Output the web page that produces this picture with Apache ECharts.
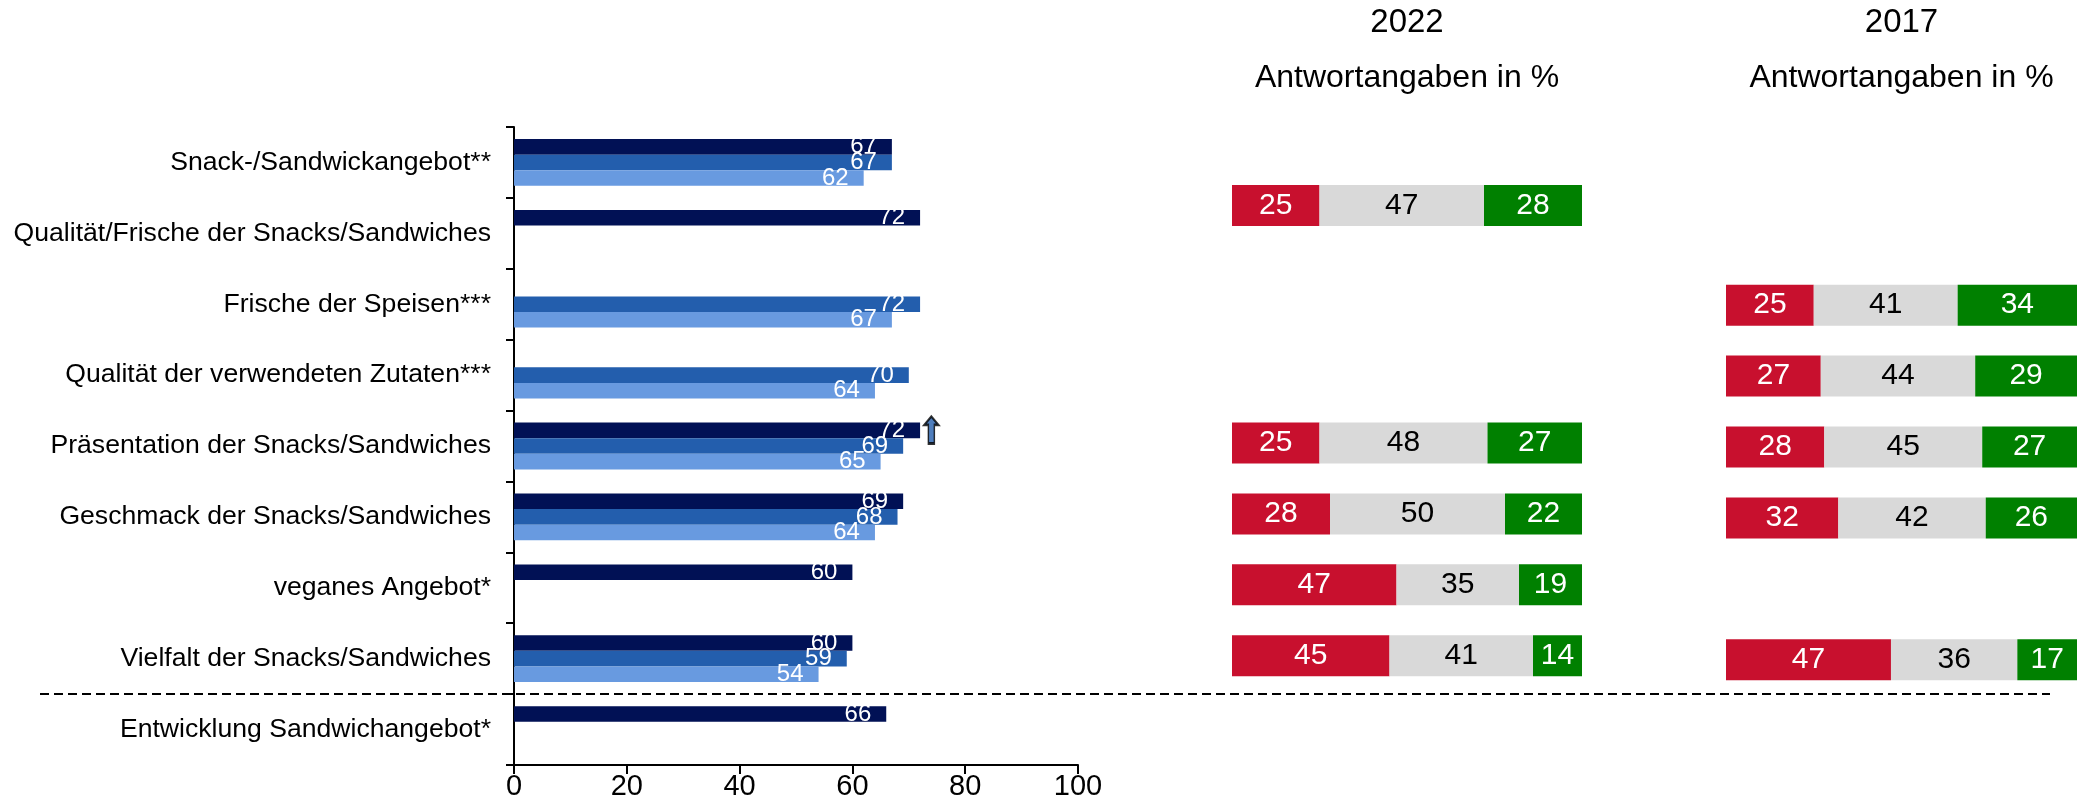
<!DOCTYPE html>
<html><head><meta charset="utf-8">
<script src="https://cdn.jsdelivr.net/npm/echarts@6/dist/echarts.min.js"></script>
<style>html,body{margin:0;padding:0;background:#fff}#c{width:2083px;height:810px}</style>
</head><body><div id="c"></div>
<script>
// ---------- data ----------
const categories = [
  'Snack-/Sandwickangebot**',
  'Qualität/Frische der Snacks/Sandwiches',
  'Frische der Speisen***',
  'Qualität der verwendeten Zutaten***',
  'Präsentation der Snacks/Sandwiches',
  'Geschmack der Snacks/Sandwiches',
  'veganes Angebot*',
  'Vielfalt der Snacks/Sandwiches',
  'Entwicklung Sandwichangebot*'
];
const xTicks = [0, 20, 40, 60, 80, 100];
// left panel (mean scores), three survey waves
const waveDark   = [67, 72, null, null, 72, 69, 60, 60, 66];
const waveMedium = [67, null, 72, 70, 69, 68, null, 59, null];
const waveLight  = [62, null, 67, 64, 65, 64, null, 54, null];
// trend arrow marker
const arrowCategory = 'Präsentation der Snacks/Sandwiches';
const arrowValue = 74;
// right panels: answer shares in %
const neg2022 = [null, 25, null, null, 25, 28, 47, 45, null];
const mid2022 = [null, 47, null, null, 48, 50, 35, 41, null];
const pos2022 = [null, 28, null, null, 27, 22, 19, 14, null];
const neg2017 = [null, null, 25, 27, 28, 32, null, 47, null];
const mid2017 = [null, null, 41, 44, 45, 42, null, 36, null];
const pos2017 = [null, null, 34, 29, 27, 26, null, 17, null];
const panelTitles = [['2022', 'Antwortangaben in %'], ['2017', 'Antwortangaben in %']];

// ---------- layout / styles ----------
const FONT = '"Liberation Sans", Arial, sans-serif';
const C_DARK = '#011155', C_MED = '#235EAD', C_LIGHT = '#689AE0';
const C_RED = '#C8102E', C_GREY = '#D9D9D9', C_GREEN = '#008000';
// row of the 2022 panel that sits higher than its category band in the original
const raisedRow2022 = 1;

const chart = echarts.init(document.getElementById('c'), null, {renderer: 'canvas'});

const GT = 127, GH = 638;
const grids = [
  {left: 514, top: GT, width: 564, height: GH, containLabel: false, outerBoundsMode: 'none'},
  {left: 1232, top: GT - 3, width: 350, height: GH, containLabel: false, outerBoundsMode: 'none'},
  {left: 1726, top: GT + 1, width: 351, height: GH, containLabel: false, outerBoundsMode: 'none'},
  {left: 1232, top: 185, width: 350, height: 41, containLabel: false, outerBoundsMode: 'none'}
];

const axisLineStyle = {color: '#000', width: 2};

const xAxes = [
  {gridIndex: 0, type: 'value', min: xTicks[0], max: xTicks[xTicks.length - 1], interval: xTicks[1] - xTicks[0],
   axisLine: {show: true, lineStyle: axisLineStyle},
   axisTick: {show: true, length: 9, lineStyle: axisLineStyle},
   axisLabel: {fontSize: 29, fontFamily: FONT, color: '#000', margin: 7},
   splitLine: {show: false}},
  {gridIndex: 1, type: 'value', min: 0, max: 100, show: false},
  {gridIndex: 2, type: 'value', min: 0, max: 100, show: false},
  {gridIndex: 3, type: 'value', min: 0, max: 100, show: false}
];
const yAxes = [
  {gridIndex: 0, type: 'category', data: categories, inverse: true,
   axisLine: {show: true, lineStyle: axisLineStyle},
   axisTick: {show: true, length: 8, interval: 0, lineStyle: axisLineStyle},
   axisLabel: {fontSize: 26.6, fontFamily: FONT, color: '#000', margin: 23, interval: 0}},
  {gridIndex: 1, type: 'category', data: categories, inverse: true, show: false},
  {gridIndex: 2, type: 'category', data: categories, inverse: true, show: false},
  {gridIndex: 3, type: 'category', data: [categories[raisedRow2022]], inverse: true, show: false}
];

function leftBar(name, data, color) {
  return {
    name, type: 'bar', xAxisIndex: 0, yAxisIndex: 0, data,
    barGap: '0%', barCategoryGap: '34%',
    itemStyle: {color},
    label: {show: true, position: 'insideRight', distance: 15, color: '#fff',
            fontSize: 24, fontFamily: FONT, formatter: p => p.value},
    silent: true, animation: false
  };
}
function stackBar(idx, name, data, color, textColor) {
  return {
    name, type: 'bar', xAxisIndex: idx, yAxisIndex: idx, data, stack: 'p' + idx,
    barWidth: 41, itemStyle: {color},
    label: {show: true, position: 'inside', color: textColor, fontSize: 30, fontFamily: FONT,
            formatter: p => p.value},
    silent: true, animation: false
  };
}
const mainRows = arr => arr.map((v, i) => (i === raisedRow2022 ? null : v));
const raisedRow = arr => [arr[raisedRow2022]];

const arrowPath = 'path://M7,0 L14,8 L10,8 L10,26 L4,26 L4,8 L0,8 Z';

const series = [
  leftBar('2022', waveDark, C_DARK),
  leftBar('2017', waveMedium, C_MED),
  leftBar('früher', waveLight, C_LIGHT),
  {type: 'scatter', xAxisIndex: 0, yAxisIndex: 0, data: [[arrowValue, arrowCategory]],
   symbol: arrowPath, symbolSize: [14, 27], symbolOffset: [0, -16], symbolKeepAspect: false,
   itemStyle: {color: C_MED, borderColor: '#000', borderWidth: 2}, silent: true, animation: false, z: 5},
  stackBar(1, 'negativ 2022', mainRows(neg2022), C_RED, '#fff'),
  stackBar(1, 'neutral 2022', mainRows(mid2022), C_GREY, '#000'),
  stackBar(1, 'positiv 2022', mainRows(pos2022), C_GREEN, '#fff'),
  stackBar(3, 'negativ 2022 ', raisedRow(neg2022), C_RED, '#fff'),
  stackBar(3, 'neutral 2022 ', raisedRow(mid2022), C_GREY, '#000'),
  stackBar(3, 'positiv 2022 ', raisedRow(pos2022), C_GREEN, '#fff'),
  stackBar(2, 'negativ 2017', neg2017, C_RED, '#fff'),
  stackBar(2, 'neutral 2017', mid2017, C_GREY, '#000'),
  stackBar(2, 'positiv 2017', pos2017, C_GREEN, '#fff')
];

chart.setOption({
  animation: false,
  backgroundColor: '#fff',
  grid: grids, xAxis: xAxes, yAxis: yAxes, series
});

// panel titles centred over the panels, separator between last two rows
const centers = [1, 2].map(i => {
  const a = chart.convertToPixel({xAxisIndex: i}, 0);
  const b = chart.convertToPixel({xAxisIndex: i}, 100);
  return (a + b) / 2;
});
const yA = chart.convertToPixel({yAxisIndex: 0}, categories[categories.length - 2]);
const yB = chart.convertToPixel({yAxisIndex: 0}, categories[categories.length - 1]);
const sepY = Math.round((yA + yB) / 2);
const graphic = [];
panelTitles.forEach((t, i) => {
  graphic.push({type: 'text', x: centers[i], y: 23, silent: true,
    style: {text: t[0], align: 'center', verticalAlign: 'middle', fontSize: 33, fontFamily: FONT, fill: '#000'}});
  graphic.push({type: 'text', x: centers[i], y: 78, silent: true,
    style: {text: t[1], align: 'center', verticalAlign: 'middle', fontSize: 32, fontFamily: FONT, fill: '#000'}});
});
graphic.push({type: 'line', silent: true,
  shape: {x1: 40, y1: sepY, x2: 2050, y2: sepY},
  style: {stroke: '#000', lineWidth: 2, lineDash: [9, 5]}});
chart.setOption({graphic});
</script>
</body></html>
